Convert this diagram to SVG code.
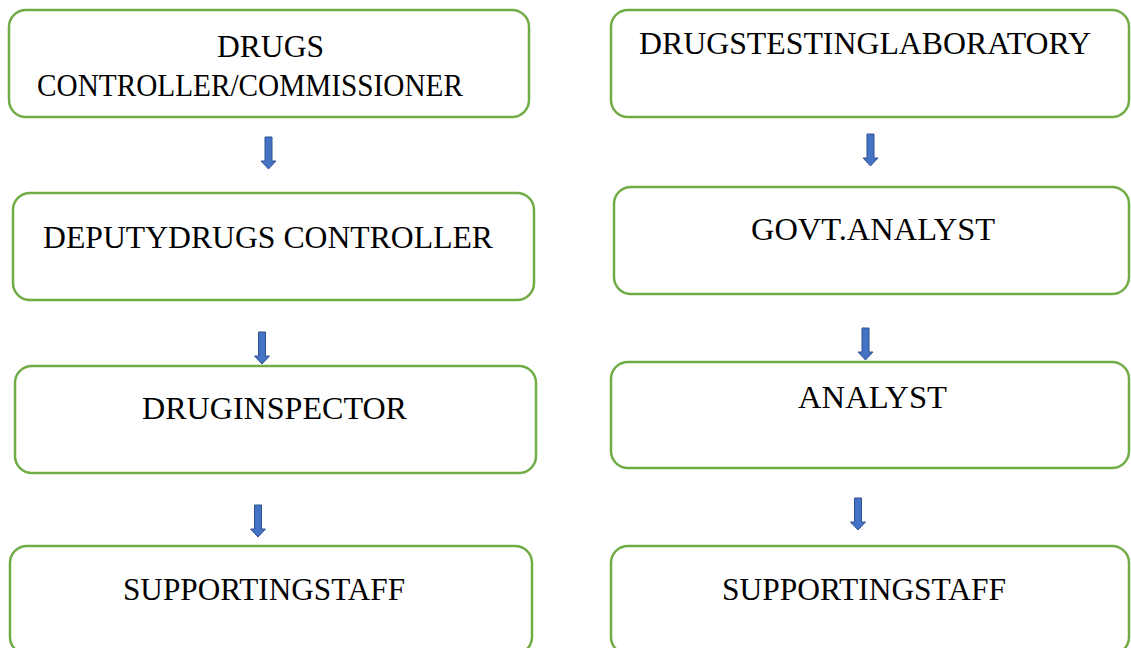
<svg xmlns="http://www.w3.org/2000/svg" width="1131" height="648" viewBox="0 0 1131 648">
  <style>
    .box { fill: #ffffff; stroke: #70AD47; stroke-width: 2.5; }
    .label { font-family: "Liberation Serif", "Times New Roman", serif; font-size: 32px; fill: #000000; }
    .arrow { fill: #4472C4; stroke: #2F528F; stroke-width: 1; }
  </style>
  <defs>
    <!-- block arrow pointing down, origin at top-centre of the shaft -->
    <path id="down" d="M -3.5 0 L 3.5 0 L 3.5 24 L 7.5 24 L 0 32 L -7.5 24 L -3.5 24 Z"/>
  </defs>
  <rect width="1131" height="648" fill="#ffffff"/>

  <!-- left column -->
  <g id="drugs-controller">
    <rect class="box" x="9" y="10" width="520" height="107" rx="17"/>
    <text class="label" x="217" y="57" textLength="107" lengthAdjust="spacingAndGlyphs">DRUGS</text>
    <text class="label" x="37" y="96" textLength="426" lengthAdjust="spacingAndGlyphs">CONTROLLER/COMMISSIONER</text>
  </g>
  <g id="deputy-drugs-controller">
    <rect class="box" x="13" y="193" width="521" height="107" rx="17"/>
    <text class="label" x="43" y="248" textLength="450" lengthAdjust="spacingAndGlyphs">DEPUTYDRUGS CONTROLLER</text>
  </g>
  <g id="drug-inspector">
    <rect class="box" x="15" y="366" width="521" height="107" rx="17"/>
    <text class="label" x="142" y="419" textLength="265" lengthAdjust="spacingAndGlyphs">DRUGINSPECTOR</text>
  </g>
  <g id="supporting-staff-left">
    <rect class="box" x="10" y="546" width="522" height="108" rx="17"/>
    <text class="label" x="123" y="600" textLength="282" lengthAdjust="spacingAndGlyphs">SUPPORTINGSTAFF</text>
  </g>

  <!-- right column -->
  <g id="drugs-testing-laboratory">
    <rect class="box" x="611" y="10" width="518" height="107" rx="17"/>
    <text class="label" x="639" y="54" textLength="452" lengthAdjust="spacingAndGlyphs">DRUGSTESTINGLABORATORY</text>
  </g>
  <g id="govt-analyst">
    <rect class="box" x="614" y="187" width="515" height="107" rx="17"/>
    <text class="label" x="751" y="240" textLength="244" lengthAdjust="spacingAndGlyphs">GOVT.ANALYST</text>
  </g>
  <g id="analyst">
    <rect class="box" x="611" y="362" width="518" height="106" rx="17"/>
    <text class="label" x="798" y="408" textLength="149" lengthAdjust="spacingAndGlyphs">ANALYST</text>
  </g>
  <g id="supporting-staff-right">
    <rect class="box" x="611" y="546" width="518" height="108" rx="17"/>
    <text class="label" x="722" y="600" textLength="284" lengthAdjust="spacingAndGlyphs">SUPPORTINGSTAFF</text>
  </g>

  <!-- connectors -->
  <g id="connectors">
    <use href="#down" class="arrow" x="268.5" y="137"/>
    <use href="#down" class="arrow" x="262" y="332"/>
    <use href="#down" class="arrow" x="258" y="505"/>
    <use href="#down" class="arrow" x="870.5" y="134"/>
    <use href="#down" class="arrow" x="865.5" y="328"/>
    <use href="#down" class="arrow" x="858" y="498"/>
  </g>
</svg>
